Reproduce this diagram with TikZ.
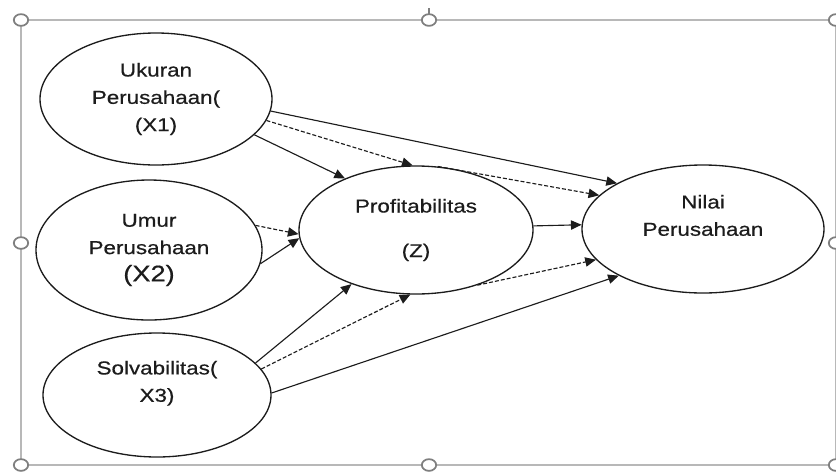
\documentclass[tikz,border=0pt]{standalone}
\usepackage{fontspec}
\setmainfont{Liberation Sans}[FakeStretch=1.2,FakeBold=0.6]
\usetikzlibrary{arrows.meta,shapes.geometric}
\definecolor{FrameGray}{HTML}{B8B8B8}
\definecolor{HandleGray}{HTML}{7F7F7F}
\definecolor{InkDark}{HTML}{1C1C1C}

\begin{document}
\begin{tikzpicture}[
  x=0.75pt, y=-0.75pt,
  latent/.style={
    ellipse,
    draw=InkDark,
    line width=1pt,
    inner sep=0pt,
    align=center,
    text=InkDark,
    font=\fontsize{14}{20.5}\selectfont
  },
  link/.style={
    -{Triangle[length=8pt,width=7pt]},
    line width=0.85pt,
    draw=InkDark
  },
  mediated/.style={
    link,
    dash pattern=on 3pt off 1.5pt
  },
  handle/.style={
    draw=HandleGray,
    fill=white,
    line width=1.3pt
  }
]
\useasboundingbox (0,0) rectangle (836,472);

% Selection frame
\draw[FrameGray, line width=1.5pt] (21,20) rectangle (836,465);
\draw[HandleGray, line width=1pt] (429,8) -- (429,15);
\foreach \hx/\hy in {21/20, 429/20, 836/20, 21/243, 836/243, 21/465, 429/465, 836/465}
  \draw[handle] (\hx,\hy) ellipse [x radius=5.4pt, y radius=4.4pt];

% Left column
\node[latent, minimum width=174pt, minimum height=99pt]
  (ukuran) at (156,99) {Ukuran\\Perusahaan(\\(X1)};

\node[latent, minimum width=169.5pt, minimum height=105pt]
  (umur) at (149,250) {Umur\\Perusahaan\\{\fontsize{17}{20.5}\selectfont (X2)}};

\node[latent, minimum width=171pt, minimum height=93pt]
  (solva) at (157,395) {Solvabilitas(\\X3)\\\mbox{}};

% Middle
\node[latent, minimum width=175.5pt, minimum height=96pt]
  (profit) at (416,230) {Profitabilitas\\[13pt](Z)};

% Right
\node[latent, minimum width=181.5pt, minimum height=96pt]
  (nilai) at (703,229) {Nilai\\Perusahaan\\\mbox{}};

% Connections
\draw[link] (ukuran.-20) -- (profit.144);
\draw[mediated] (ukuran.-11) -- (profit.93);
\draw[link] (ukuran.-6) -- (nilai.152);

\draw[mediated] (umur.13) -- (profit.182);
\draw[link] (umur.-7) -- (profit.184);

\draw[link] (solva.18) -- (profit.220);
\draw[mediated] (solva.14) -- (profit.265);
\draw[link] (solva.1) -- (nilai.209);

\draw[link] (profit.2) -- (nilai.178);
\draw[mediated] (profit.71) -- (nilai.162);
\draw[mediated] (profit.-42) -- (nilai.196);

\end{tikzpicture}
\end{document}
